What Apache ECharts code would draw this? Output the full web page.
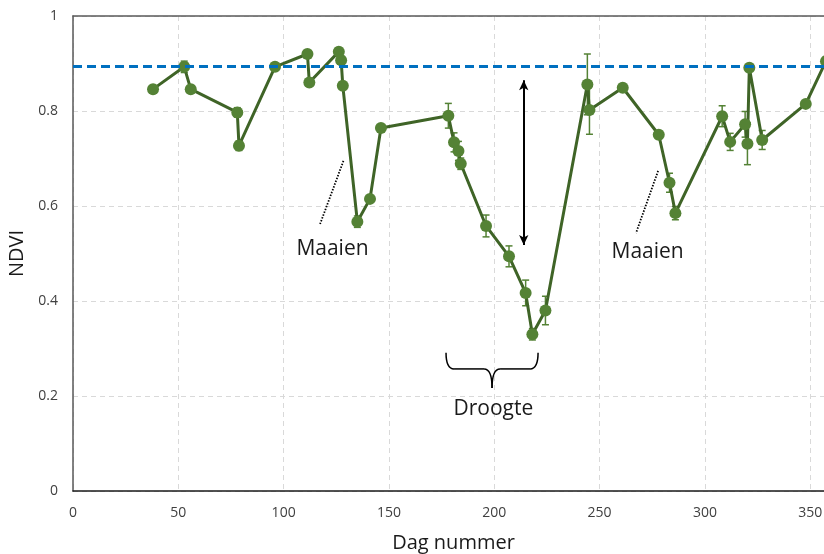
<!DOCTYPE html>
<html>
<head>
<meta charset="utf-8">
<script src="https://cdn.jsdelivr.net/npm/echarts@6/dist/echarts.min.js"></script>
<style>html,body{margin:0;padding:0;background:#fff}#c{width:824px;height:554px}</style>
</head>
<body>
<div id="c"></div>
<script>
// ---- data ----
var days = [38.0, 52.8, 55.9, 78.0, 78.8, 95.9, 111.3, 112.2, 126.2, 127.3, 128.1, 135.0, 141.0, 146.2, 178.2, 180.9, 183.0, 184.1, 196.1, 207.0, 214.9, 218.1, 224.3, 244.2, 245.2, 261.0, 278.1, 283.2, 286.0, 308.2, 312.0, 319.1, 320.2, 321.1, 327.2, 347.9, 357.5];
var ndvi = [0.846, 0.893, 0.846, 0.797, 0.727, 0.893, 0.920, 0.860, 0.925, 0.907, 0.853, 0.567, 0.615, 0.764, 0.790, 0.734, 0.716, 0.689, 0.558, 0.494, 0.417, 0.330, 0.380, 0.856, 0.802, 0.849, 0.750, 0.649, 0.585, 0.789, 0.735, 0.772, 0.731, 0.891, 0.739, 0.815, 0.905];
var errs = [0.005, 0.012, 0.005, 0.01, 0.01, 0.005, 0.005, 0.005, 0.008, 0.008, 0.005, 0.012, 0.005, 0.005, 0.026, 0.02, 0.02, 0.012, 0.023, 0.022, 0.027, 0.012, 0.03, 0.064, 0.051, 0.005, 0.008, 0.02, 0.014, 0.022, 0.018, 0.027, 0.044, 0.005, 0.02, 0.005, 0.005];
var xTicks = [0, 50, 100, 150, 200, 250, 300, 350];
var yTicks = [0, 0.2, 0.4, 0.6, 0.8, 1];
var referenceLevel = 0.894;
var arrowAnno = {day: 214.0, from: 0.865, to: 0.518};
var mowLines = [[[128.4, 0.695], [117.3, 0.562]], [[277.8, 0.674], [267.3, 0.543]]];
var labels = [{text: 'Maaien', day: 123.2, v: 0.509}, {text: 'Maaien', day: 272.8, v: 0.503}, {text: 'Droogte', day: 199.6, v: 0.173}];
var brace = {left: 177.1, right: 220.8, top: 0.291, mid: 0.257, tip: 0.217};

var XMAX = 361.3;
var FONT = "'Open Sans', 'Liberation Sans', sans-serif";
var lineData = days.map(function (d, i) { return [d, ndvi[i]]; });
var errData = days.map(function (d, i) { return [d, ndvi[i] - errs[i], ndvi[i] + errs[i]]; });

var chart = echarts.init(document.getElementById('c'), null, {renderer: 'canvas'});
var option = {
  animation: false,
  backgroundColor: '#fff',
  grid: {left: 73, top: 16, width: 761, height: 475, containLabel: false, outerBoundsMode: 'none'},
  xAxis: [{
    type: 'value', min: 0, max: XMAX, interval: 50,
    name: 'Dag nummer', nameLocation: 'middle', nameGap: 42,
    nameTextStyle: {fontFamily: FONT, fontSize: 20, color: '#1a1a1a'},
    axisLine: {show: true, lineStyle: {color: '#1a1a1a', width: 1.5}},
    axisTick: {show: false},
    axisLabel: {fontFamily: FONT, fontSize: 14, color: '#404040', margin: 15,
      formatter: function (v) { return xTicks.indexOf(v) >= 0 ? String(v) : ''; },
      showMaxLabel: false},
    splitLine: {show: true, lineStyle: {color: '#d9d9d9', type: [5, 4], width: 1}}
  }, {
    type: 'value', position: 'top', min: 0, max: XMAX,
    axisLine: {show: true, onZero: false, lineStyle: {color: '#595959', width: 1.5}},
    axisTick: {show: false}, axisLabel: {show: false}, splitLine: {show: false}
  }],
  yAxis: {
    type: 'value', min: 0, max: 1, interval: 0.2,
    name: 'NDVI', nameLocation: 'middle', nameGap: 43, nameRotate: 90,
    nameTextStyle: {fontFamily: FONT, fontSize: 20, color: '#1a1a1a'},
    axisLine: {show: true, lineStyle: {color: '#595959', width: 1.5}},
    axisTick: {show: false},
    axisLabel: {fontFamily: FONT, fontSize: 14, color: '#404040', margin: 15,
      formatter: function (v) { return String(Math.round(v * 10) / 10); }},
    splitLine: {show: true, lineStyle: {color: '#d9d9d9', type: [5, 4], width: 1}}
  },
  series: [{
    type: 'custom', name: 'err', z: 2, clip: true,
    data: errData,
    renderItem: function (params, api) {
      var x = api.value(0);
      var lo = api.coord([x, api.value(1)]);
      var hi = api.coord([x, api.value(2)]);
      var c = 3.5;
      var st = {stroke: '#548235', lineWidth: 1.5};
      return {type: 'group', children: [
        {type: 'line', shape: {x1: lo[0], y1: lo[1], x2: hi[0], y2: hi[1]}, style: st},
        {type: 'line', shape: {x1: lo[0] - c, y1: lo[1], x2: lo[0] + c, y2: lo[1]}, style: st},
        {type: 'line', shape: {x1: hi[0] - c, y1: hi[1], x2: hi[0] + c, y2: hi[1]}, style: st}
      ]};
    }
  }, {
    type: 'line', name: 'NDVI', z: 3,
    data: lineData,
    symbol: 'circle', symbolSize: 12,
    lineStyle: {color: '#3f6427', width: 3},
    itemStyle: {color: '#548235', borderWidth: 0},
    markLine: {
      silent: true, animation: false,
      label: {show: false},
      data: [
        [{coord: [0, referenceLevel], symbol: 'none'}, {coord: [XMAX, referenceLevel], symbol: 'none'}]
      ],
      lineStyle: {color: '#0070c0', width: 3, type: [9, 5]}
    }
  }, {
    type: 'line', name: 'arrow', z: 4, data: [],
    markLine: {
      silent: true, animation: false, label: {show: false},
      symbol: ['arrow', 'arrow'], symbolSize: [7, 10],
      lineStyle: {color: '#000', width: 2, type: 'solid'},
      data: [[{coord: [arrowAnno.day, arrowAnno.from]}, {coord: [arrowAnno.day, arrowAnno.to]}]]
    }
  }]
};
chart.setOption(option);

function px(d, v) { return chart.convertToPixel({xAxisIndex: 0, yAxisIndex: 0}, [d, v]); }
var g = [];
mowLines.forEach(function (ln) {
  var a = px(ln[0][0], ln[0][1]), b = px(ln[1][0], ln[1][1]);
  g.push({type: 'line', z: 10, shape: {x1: a[0], y1: a[1], x2: b[0], y2: b[1]},
    style: {stroke: '#000', lineWidth: 1.8, lineDash: [1.5, 1.5]}});
});
labels.forEach(function (l) {
  var p = px(l.day, l.v);
  g.push({type: 'text', z: 10, x: p[0], y: p[1],
    style: {text: l.text, fontFamily: FONT, fontSize: 21, fill: '#1a1a1a', align: 'center', verticalAlign: 'middle'}});
});
(function () {
  var L = px(brace.left, brace.top), R = px(brace.right, brace.top);
  var M = px((brace.left + brace.right) / 2, brace.mid), T = px((brace.left + brace.right) / 2, brace.tip);
  var xl = L[0], xr = R[0], yt = L[1], ym = M[1], xc = M[0], yb = T[1];
  var r = 8;
  var st = {stroke: '#000', lineWidth: 1.5, fill: null};
  var segs = [
    {type: 'bezierCurve', shape: {x1: xl, y1: yt, cpx1: xl, cpy1: ym, x2: xl + r, y2: ym}},
    {type: 'line', shape: {x1: xl + r, y1: ym, x2: xc - r, y2: ym}},
    {type: 'bezierCurve', shape: {x1: xc - r, y1: ym, cpx1: xc, cpy1: ym, x2: xc, y2: yb}},
    {type: 'bezierCurve', shape: {x1: xc, y1: yb, cpx1: xc, cpy1: ym, x2: xc + r, y2: ym}},
    {type: 'line', shape: {x1: xc + r, y1: ym, x2: xr - r, y2: ym}},
    {type: 'bezierCurve', shape: {x1: xr - r, y1: ym, cpx1: xr, cpy1: ym, x2: xr, y2: yt}}
  ];
  segs.forEach(function (s) { s.z = 10; s.style = st; g.push(s); });
})();
chart.setOption({graphic: g});
</script>
</body>
</html>
